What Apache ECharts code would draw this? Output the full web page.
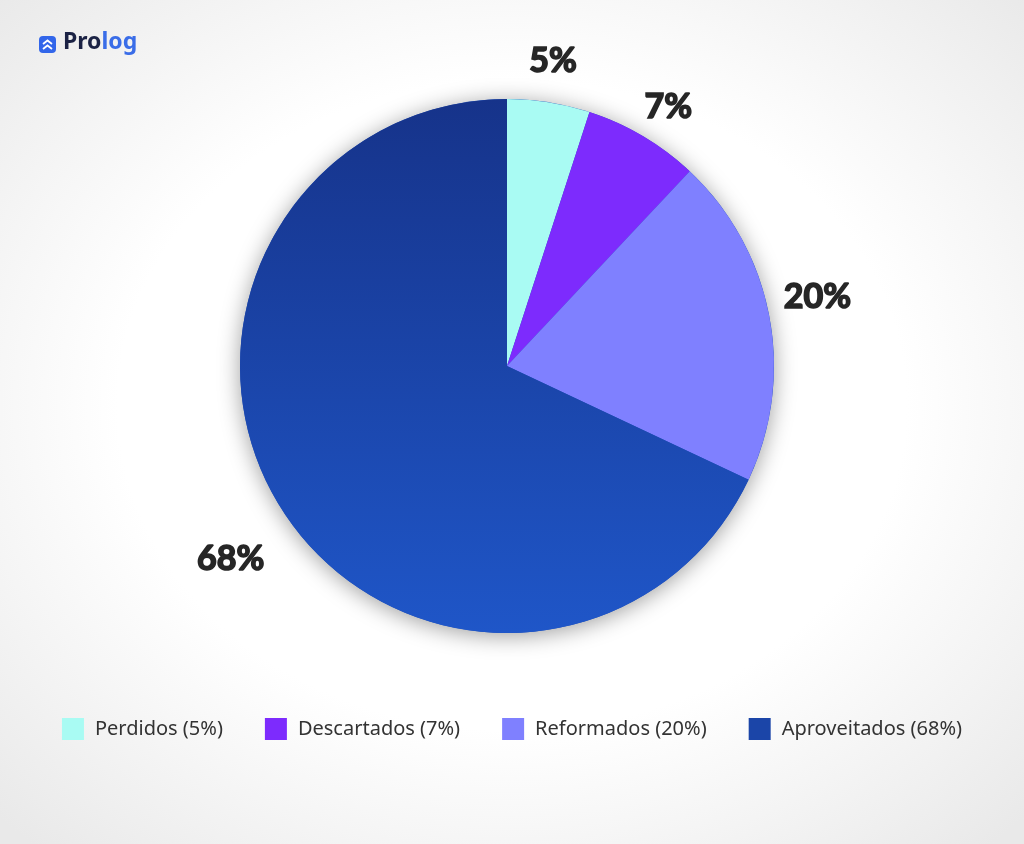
<!DOCTYPE html>
<html>
<head>
<meta charset="utf-8">
<script src="https://cdn.jsdelivr.net/npm/echarts@6/dist/echarts.min.js"></script>
<style>
html,body{margin:0;padding:0;width:1024px;height:844px;overflow:hidden;}
#chart{width:1024px;height:844px;background:radial-gradient(ellipse 70% 70% at 50% 48%, #ffffff 55%, #e9e9e9 100%);}
</style>
</head>
<body>
<div id="chart"></div>
<script>
const categories = ['Perdidos', 'Descartados', 'Reformados', 'Aproveitados'];
const values = [5, 7, 20, 68];
const legendLabels = ['Perdidos (5%)', 'Descartados (7%)', 'Reformados (20%)', 'Aproveitados (68%)'];
const colors = ['#a9fbf3', '#7d2bfd', '#7f80ff', null];
const legendColors = ['#a9fbf3', '#7d2bfd', '#7f80ff', '#1b45a8'];
const labelOffsets = [[-3, 4], [2, 10], [3, -10], [-12, 25]];

const chart = echarts.init(document.getElementById('chart'));
const aproveitadoGrad = new echarts.graphic.LinearGradient(0, 0, 0, 1, [
  {offset: 0, color: '#16338a'},
  {offset: 1, color: '#1f56c8'}
]);

const data = categories.map((c, i) => ({
  name: legendLabels[i],
  value: values[i],
  itemStyle: {color: colors[i] || aproveitadoGrad}
}));

const labelData = categories.map((c, i) => ({
  name: legendLabels[i],
  value: values[i],
  label: {offset: labelOffsets[i]}
}));

chart.setOption({
  backgroundColor: 'transparent',
  animation: false,
  legend: {
    left: 'center',
    top: 713,
    itemWidth: 22,
    itemHeight: 22,
    itemGap: 42,
    icon: 'rect',
    textStyle: {fontFamily: 'Noto Sans', fontSize: 20, color: '#333333', padding: [0, 0, 0, 6]},
    data: legendLabels.map((l, i) => ({name: l, itemStyle: {color: legendColors[i]}}))
  },
  graphic: [
    {
      type: 'rect', left: 39, top: 36,
      shape: {width: 17, height: 17, r: 4},
      style: {fill: '#3266ea'}
    },
    {
      type: 'polyline',
      shape: {points: [[43, 44], [47.5, 40.5], [52, 44]]},
      style: {stroke: '#ffffff', lineWidth: 1.8, fill: null}
    },
    {
      type: 'polyline',
      shape: {points: [[43, 49], [47.5, 45.5], [52, 49]]},
      style: {stroke: '#ffffff', lineWidth: 1.8, fill: null}
    },
    {
      type: 'text', left: 63, top: 31,
      style: {
        text: '{a|Pro}{b|log}',
        rich: {
          a: {fontFamily: 'Noto Sans', fontWeight: 'bold', fontSize: 23, fill: '#1b2244'},
          b: {fontFamily: 'Noto Sans', fontWeight: 'bold', fontSize: 23, fill: '#3a6de8'}
        }
      }
    }
  ],
  series: [
    {
      type: 'pie',
      center: [507, 366],
      radius: [0, 267],
      silent: true,
      z: 1,
      label: {show: false},
      labelLine: {show: false},
      itemStyle: {color: '#1f4fb8', shadowBlur: 22, shadowColor: 'rgba(0,0,0,0.38)', shadowOffsetY: 3},
      data: [{value: 1, name: '__bg'}],
      legendHoverLink: false
    },
    {
      type: 'pie',
      center: [507, 366],
      radius: [0, 267],
      startAngle: 90,
      clockwise: true,
      z: 2,
      label: {show: false},
      labelLine: {show: false},
      itemStyle: {borderWidth: 0},
      data: data
    },
    {
      type: 'pie',
      center: [507, 366],
      radius: [284, 336],
      startAngle: 90,
      clockwise: true,
      silent: true,
      z: 3,
      itemStyle: {color: 'transparent'},
      label: {
        show: true,
        position: 'inside',
        formatter: p => p.value + '%',
        fontFamily: 'Lato',
        fontWeight: 'bold',
        fontSize: 34,
        color: '#262626',
        textBorderColor: '#262626',
        textBorderWidth: 1.6
      },
      labelLine: {show: false},
      data: labelData
    }
  ]
});
</script>
</body>
</html>
